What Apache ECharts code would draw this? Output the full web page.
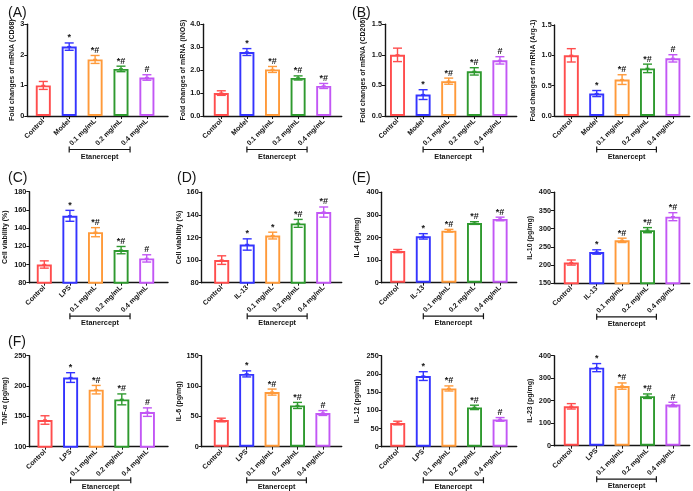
<!DOCTYPE html>
<html><head><meta charset="utf-8">
<script src="https://cdn.jsdelivr.net/npm/echarts@6/dist/echarts.min.js"></script>
<style>html,body{margin:0;padding:0;background:#fff}#c{width:693px;height:491px}</style>
</head><body><div id="c"></div>
<script>
// ---------- categories ----------
const catsModel = ['Control', 'Model', '0.1 mg/mL', '0.2 mg/mL', '0.4 mg/mL'];
const catsLPS   = ['Control', 'LPS', '0.1 mg/mL', '0.2 mg/mL', '0.4 mg/mL'];
const catsIL13  = ['Control', 'IL-13', '0.1 mg/mL', '0.2 mg/mL', '0.4 mg/mL'];
const groupLabel = 'Etanercept';
const groupStart = 2, groupEnd = 4;

// ---------- data (mean, SD, significance) ----------
const cd68Mean = [1.00, 2.27, 1.85, 1.54, 1.26];
const cd68Sd   = [0.13, 0.12, 0.13, 0.09, 0.09];
const cd68Sig  = ['', '*', '*#', '*#', '#'];

const inosMean = [1.00, 2.79, 2.03, 1.66, 1.31];
const inosSd   = [0.10, 0.15, 0.13, 0.09, 0.11];
const inosSig  = ['', '*', '*#', '*#', '*#'];

const cd206Mean = [1.00, 0.35, 0.57, 0.73, 0.91];
const cd206Sd   = [0.11, 0.08, 0.05, 0.06, 0.06];
const cd206Sig  = ['', '*', '*#', '*#', '#'];

const arg1Mean = [1.00, 0.37, 0.60, 0.785, 0.95];
const arg1Sd   = [0.11, 0.05, 0.08, 0.07, 0.06];
const arg1Sig  = ['', '*', '*#', '*#', '#'];

const viabLpsMean = [100, 153.5, 135.5, 115.8, 106.7];
const viabLpsSd   = [4, 6, 5, 4, 4];
const viabLpsSig  = ['', '*', '*#', '*#', '#'];

const viabIl13Mean = [100, 113.8, 121.7, 132.5, 142.5];
const viabIl13Sd   = [3.8, 5, 3, 3.5, 4.5];
const viabIl13Sig  = ['', '*', '*', '*#', '*#'];

const il4Mean = [140, 205, 230, 264, 282];
const il4Sd   = [7, 12, 6, 6, 8];
const il4Sig  = ['', '*', '*#', '*#', '*#'];

const il10Mean = [207, 236, 268, 296, 333];
const il10Sd   = [7, 6, 6, 7, 11];
const il10Sig  = ['', '*', '*#', '*#', '*#'];

const tnfMean = [144, 214, 194, 178, 157];
const tnfSd   = [7, 8, 7, 9, 7];
const tnfSig  = ['', '*', '*#', '*#', '#'];

const il6Mean = [44, 120, 90, 68, 55.5];
const il6Sd   = [3, 5, 5, 5, 4];
const il6Sig  = ['', '*', '*#', '*#', '#'];

const il12Mean = [65, 194, 160, 108, 75];
const il12Sd   = [5, 12, 7, 6, 5];
const il12Sig  = ['', '*', '*#', '*#', '#'];

const il23Mean = [175, 347, 265, 220, 183];
const il23Sd   = [12, 18, 14, 10, 10];
const il23Sig  = ['', '*', '*#', '*#', '#'];

// ---------- panels ----------
const panels = [
  {letter: '(A)', cats: catsModel, mean: cd68Mean, sd: cd68Sd, sig: cd68Sig, name: 'Fold changes of mRNA (CD68)', min: 0, max: 3, step: 1, dec: 0},
  {letter: '',    cats: catsModel, mean: inosMean, sd: inosSd, sig: inosSig, name: 'Fold changes of mRNA (iNOS)', min: 0, max: 4, step: 1, dec: 1},
  {letter: '(B)', cats: catsModel, mean: cd206Mean, sd: cd206Sd, sig: cd206Sig, name: 'Fold changes of mRNA (CD206)', min: 0, max: 1.5, step: 0.5, dec: 1},
  {letter: '',    cats: catsModel, mean: arg1Mean, sd: arg1Sd, sig: arg1Sig, name: 'Fold changes of mRNA (Arg-1)', min: 0, max: 1.5, step: 0.5, dec: 1},
  {letter: '(C)', cats: catsLPS, mean: viabLpsMean, sd: viabLpsSd, sig: viabLpsSig, name: 'Cell viability (%)', min: 80, max: 180, step: 20, dec: 0},
  {letter: '(D)', cats: catsIL13, mean: viabIl13Mean, sd: viabIl13Sd, sig: viabIl13Sig, name: 'Cell viability (%)', min: 80, max: 160, step: 20, dec: 0},
  {letter: '(E)', cats: catsIL13, mean: il4Mean, sd: il4Sd, sig: il4Sig, name: 'IL-4 (pg/mg)', min: 0, max: 400, step: 100, dec: 0},
  {letter: '',    cats: catsIL13, mean: il10Mean, sd: il10Sd, sig: il10Sig, name: 'IL-10 (pg/mg)', min: 150, max: 400, step: 50, dec: 0},
  {letter: '(F)', cats: catsLPS, mean: tnfMean, sd: tnfSd, sig: tnfSig, name: 'TNF-α (pg/mg)', min: 100, max: 250, step: 50, dec: 0},
  {letter: '',    cats: catsLPS, mean: il6Mean, sd: il6Sd, sig: il6Sig, name: 'IL-6 (pg/mg)', min: 0, max: 150, step: 50, dec: 0},
  {letter: '',    cats: catsLPS, mean: il12Mean, sd: il12Sd, sig: il12Sig, name: 'IL-12 (pg/mg)', min: 0, max: 250, step: 50, dec: 0},
  {letter: '',    cats: catsLPS, mean: il23Mean, sd: il23Sd, sig: il23Sig, name: 'IL-23 (pg/mg)', min: 0, max: 400, step: 100, dec: 0}
];

// ---------- layout (pixels) ----------
const layout = [
  {L: 27.3, R: 168, c0: 43.3, s: 25.9, top: 24.3, bot: 116, gap: 12, lx: 3, ly: 1},
  {L: 203.3, R: 341.7, c0: 221.3, s: 25.6, top: 24.3, bot: 116, gap: 14.5},
  {L: 385, R: 516.7, c0: 397.5, s: 25.6, top: 24.3, bot: 116, gap: 18, lx: 347, ly: 1},
  {L: 554.7, R: 689.7, c0: 571.3, s: 25.4, top: 25, bot: 116, gap: 18},
  {L: 29.3, R: 168, c0: 44.3, s: 25.6, top: 191.7, bot: 282.7, gap: 20.5, lx: 3, ly: 166},
  {L: 201.7, R: 341.7, c0: 221.7, s: 25.5, top: 192.3, bot: 282.7, gap: 16.5, lx: 172, ly: 166},
  {L: 381.7, R: 516.7, c0: 397.7, s: 25.6, top: 192.3, bot: 282.7, gap: 21, lx: 347, ly: 166},
  {L: 554, R: 689.7, c0: 571.3, s: 25.4, top: 192.3, bot: 283.3, gap: 20},
  {L: 29.3, R: 168, c0: 45, s: 25.6, top: 355.7, bot: 446.7, gap: 20.5, lx: 3, ly: 330},
  {L: 201.7, R: 341.7, c0: 221.3, s: 25.4, top: 355.7, bot: 446.7, gap: 16},
  {L: 381.7, R: 516.7, c0: 397.7, s: 25.6, top: 355.7, bot: 446.7, gap: 21},
  {L: 554, R: 689.7, c0: 571.3, s: 25.4, top: 355.7, bot: 445.7, gap: 20.5}
];

const barColors = ['#ff4d4d', '#3434ff', '#ff9a3a', '#2f9a2f', '#c257f5'];
const FONT = '"Liberation Sans", Arial, sans-serif';
const INK = '#151515';

const grids = [], xAxes = [], yAxes = [], series = [], titles = [];

panels.forEach((p, k) => {
  const g = layout[k];
  const idx = p.cats.map((c, i) => i);
  grids.push({left: g.L, top: g.top, width: g.R - g.L, height: g.bot - g.top});
  xAxes.push({
    type: 'value', gridIndex: k,
    min: (g.L - g.c0) / g.s, max: (g.R - g.c0) / g.s,
    splitLine: {show: false},
    axisLine: {show: true, onZero: false, lineStyle: {color: INK, width: 1.4}},
    axisTick: {show: true, customValues: idx, length: 3, lineStyle: {color: INK, width: 1}},
    axisLabel: {customValues: idx, rotate: 45, margin: 4, fontSize: 7, fontWeight: 'bold',
      fontFamily: FONT, color: INK, formatter: v => p.cats[Math.round(v)]}
  });
  yAxes.push({
    type: 'value', gridIndex: k, min: p.min, max: p.max, interval: p.step,
    splitLine: {show: false},
    axisLine: {show: true, onZero: false, lineStyle: {color: INK, width: 1.4}},
    axisTick: {show: true, length: 3, lineStyle: {color: INK, width: 1}},
    axisLabel: {fontSize: 7.3, fontWeight: 'bold', fontFamily: FONT, color: INK, margin: 3,
      formatter: v => v.toFixed(p.dec)},
    name: p.name, nameLocation: 'middle', nameGap: g.gap,
    nameTextStyle: {fontSize: 7, fontWeight: 'bold', fontFamily: FONT, color: INK}
  });
  if (p.letter) {
    titles.push({text: p.letter, left: g.lx, top: g.ly,
      textStyle: {fontSize: 14, fontWeight: 'normal', fontFamily: FONT, color: INK}});
  }
  series.push({
    type: 'bar', xAxisIndex: k, yAxisIndex: k, barWidth: 15, silent: true,
    data: p.mean.map((v, i) => ({value: [i, v],
      itemStyle: {color: '#ffffff', borderColor: barColors[i], borderWidth: 1.9}}))
  });
  series.push({
    type: 'custom', xAxisIndex: k, yAxisIndex: k, silent: true, z: 5,
    data: p.mean.map((v, i) => [i, v, p.sd[i]]),
    renderItem: (params, api) => {
      const i = api.value(0), m = api.value(1), sd = api.value(2);
      const hi = api.coord([i, m + sd]);
      const lo = api.coord([i, m - sd]);
      const mid = api.coord([i, m]);
      const col = barColors[i];
      const w = 4.5;
      const ls = {stroke: col, lineWidth: 1.4};
      const children = [
        {type: 'line', shape: {x1: hi[0], y1: hi[1], x2: lo[0], y2: lo[1]}, style: ls},
        {type: 'line', shape: {x1: hi[0] - w, y1: hi[1], x2: hi[0] + w, y2: hi[1]}, style: ls},
        {type: 'line', shape: {x1: lo[0] - w, y1: lo[1], x2: lo[0] + w, y2: lo[1]}, style: ls},
        {type: 'line', shape: {x1: mid[0] - 2, y1: mid[1], x2: mid[0] + 2, y2: mid[1]}, style: ls}
      ];
      const sg = p.sig[params.dataIndex];
      if (sg) {
        children.push({type: 'text', style: {text: sg, x: hi[0], y: hi[1] - 0.5,
          align: 'center', verticalAlign: 'bottom', fontSize: 9, fontWeight: 'bold',
          fontFamily: FONT, fill: INK}});
      }
      return {type: 'group', children};
    }
  });
  series.push({
    type: 'custom', xAxisIndex: k, yAxisIndex: k, silent: true,
    data: [[groupStart, groupEnd]],
    renderItem: (params, api) => {
      const cs = params.coordSys;
      const base = cs.y + cs.height;
      const s = api.size([1, 0])[0];
      const l = api.coord([api.value(0), p.min])[0] - s;
      const r = api.coord([api.value(1), p.min])[0] - 0.65 * s;
      const y = base + 33.5;
      const st = {stroke: INK, lineWidth: 1.2};
      return {type: 'group', children: [
        {type: 'line', shape: {x1: l, y1: y, x2: r, y2: y}, style: st},
        {type: 'line', shape: {x1: l, y1: y - 3, x2: l, y2: y + 3}, style: st},
        {type: 'line', shape: {x1: r, y1: y - 3, x2: r, y2: y + 3}, style: st},
        {type: 'text', style: {text: groupLabel, x: (l + r) / 2, y: y + 3.5,
          align: 'center', verticalAlign: 'top', fontSize: 7.3, fontWeight: 'bold',
          fontFamily: FONT, fill: INK}}
      ]};
    }
  });
});

const chart = echarts.init(document.getElementById('c'));
chart.setOption({
  animation: false,
  backgroundColor: '#ffffff',
  title: titles,
  grid: grids,
  xAxis: xAxes,
  yAxis: yAxes,
  series: series
});
</script>
</body></html>
